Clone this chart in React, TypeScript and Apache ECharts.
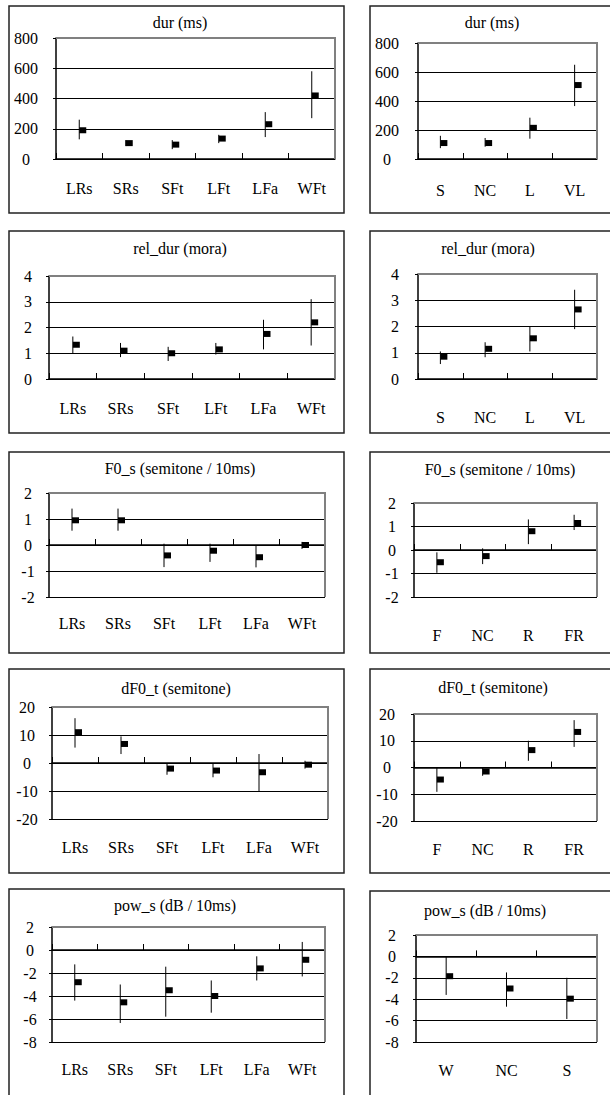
import React, { useEffect, useRef } from "react";
import * as echarts from "echarts";

// ---------- data ----------
const catsType = ["LRs", "SRs", "SFt", "LFt", "LFa", "WFt"];
const catsLen = ["S", "NC", "L", "VL"];
const catsF0 = ["F", "NC", "R", "FR"];
const catsPow = ["W", "NC", "S"];

const durTypeMean = [190, 105, 95, 135, 230, 420];
const durTypeLow = [130, 85, 65, 105, 145, 270];
const durTypeHigh = [260, 125, 125, 160, 310, 580];

const durLenMean = [110, 110, 215, 510];
const durLenLow = [75, 85, 140, 365];
const durLenHigh = [160, 145, 285, 650];

const relTypeMean = [1.33, 1.1, 1.0, 1.15, 1.75, 2.2];
const relTypeLow = [1.0, 0.85, 0.7, 0.95, 1.15, 1.3];
const relTypeHigh = [1.65, 1.4, 1.25, 1.4, 2.3, 3.1];

const relLenMean = [0.85, 1.15, 1.55, 2.65];
const relLenLow = [0.57, 0.83, 1.05, 1.9];
const relLenHigh = [1.05, 1.4, 2.0, 3.4];

const f0TypeMean = [0.95, 0.95, -0.4, -0.22, -0.47, 0.0];
const f0TypeLow = [0.55, 0.55, -0.85, -0.65, -0.86, -0.15];
const f0TypeHigh = [1.4, 1.4, 0.05, 0.05, 0.0, 0.12];

const f0DirMean = [-0.52, -0.26, 0.8, 1.15];
const f0DirLow = [-0.97, -0.6, 0.25, 0.85];
const f0DirHigh = [-0.1, 0.07, 1.3, 1.5];

const df0TypeMean = [11, 6.8, -2, -2.7, -3.3, -0.6];
const df0TypeLow = [5.5, 3.2, -4.2, -5.1, -10, -2];
const df0TypeHigh = [16, 9.5, 0, 0, 3.2, 0.8];

const df0DirMean = [-4.5, -1.5, 6.5, 13.3];
const df0DirLow = [-9.1, -3.1, 2.5, 7.7];
const df0DirHigh = [0, 0, 10, 17.7];

const powTypeMean = [-2.8, -4.55, -3.5, -4.0, -1.6, -0.85];
const powTypeLow = [-4.4, -6.35, -5.8, -5.45, -2.65, -2.3];
const powTypeHigh = [-1.25, -3.0, -1.45, -2.65, -0.55, 0.7];

const powStrMean = [-1.85, -3.0, -3.95];
const powStrLow = [-3.6, -4.7, -5.85];
const powStrHigh = [0, -1.5, -2.0];

const titles = [
  "dur (ms)", "dur (ms)",
  "rel_dur (mora)", "rel_dur (mora)",
  "F0_s (semitone / 10ms)", "F0_s (semitone / 10ms)",
  "dF0_t (semitone)", "dF0_t (semitone)",
  "pow_s (dB / 10ms)", "pow_s (dB / 10ms)",
];

// ---------- layout ----------
const FONT = "Liberation Serif";
const FS = 16;
const FRAME = "#808080";

type Panel = {
  cats: string[]; mean: number[]; low: number[]; high: number[];
  min: number; max: number; interval: number;
  grid: [number, number, number, number]; // left, top, width, height
  yMargin: number; xMargin: number;
  box: [number, number, number, number];
  title: [number, number];
};

const panels: Panel[] = [
  { cats: catsType, mean: durTypeMean, low: durTypeLow, high: durTypeHigh, min: 0, max: 800, interval: 200,
    grid: [56, 38, 279, 121], yMargin: 30, xMargin: 29, box: [9, 6, 335, 207], title: [180, 22] },
  { cats: catsLen, mean: durLenMean, low: durLenLow, high: durLenHigh, min: 0, max: 800, interval: 200,
    grid: [418, 43, 179, 116], yMargin: 31, xMargin: 31, box: [370, 6, 260, 207], title: [492, 22] },
  { cats: catsType, mean: relTypeMean, low: relTypeLow, high: relTypeHigh, min: 0, max: 4, interval: 1,
    grid: [49, 276, 286, 103], yMargin: 21, xMargin: 29, box: [9, 231, 335, 202], title: [180, 248] },
  { cats: catsLen, mean: relLenMean, low: relLenLow, high: relLenHigh, min: 0, max: 4, interval: 1,
    grid: [418, 274, 179, 105], yMargin: 23, xMargin: 38, box: [370, 231, 260, 202], title: [488, 248] },
  { cats: catsType, mean: f0TypeMean, low: f0TypeLow, high: f0TypeHigh, min: -2, max: 2, interval: 1,
    grid: [49, 493, 276, 104], yMargin: 21, xMargin: 26, box: [9, 452, 335, 201], title: [180, 468] },
  { cats: catsF0, mean: f0DirMean, low: f0DirLow, high: f0DirHigh, min: -2, max: 2, interval: 1,
    grid: [414, 503, 183, 94], yMargin: 22, xMargin: 38, box: [370, 452, 260, 201], title: [500, 469] },
  { cats: catsType, mean: df0TypeMean, low: df0TypeLow, high: df0TypeHigh, min: -20, max: 20, interval: 10,
    grid: [52, 707, 276, 112], yMargin: 25, xMargin: 28, box: [9, 669, 335, 204], title: [176, 688] },
  { cats: catsF0, mean: df0DirMean, low: df0DirLow, high: df0DirHigh, min: -20, max: 20, interval: 10,
    grid: [414, 714, 183, 107], yMargin: 27, xMargin: 28, box: [370, 669, 260, 204], title: [493, 687] },
  { cats: catsType, mean: powTypeMean, low: powTypeLow, high: powTypeHigh, min: -8, max: 2, interval: 2,
    grid: [52, 927, 273, 115], yMargin: 22, xMargin: 27, box: [9, 889, 335, 230], title: [175, 905] },
  { cats: catsPow, mean: powStrMean, low: powStrLow, high: powStrHigh, min: -8, max: 2, interval: 2,
    grid: [416, 935, 181, 107], yMargin: 24, xMargin: 28, box: [370, 891, 260, 230], title: [485, 910] },
];

function renderErr(params: any, api: any) {
  const x = api.value(0);
  const pm = api.coord([x, api.value(1)]);
  const pl = api.coord([x, api.value(2)]);
  const ph = api.coord([x, api.value(3)]);
  const children: any[] = [
    { type: "line", shape: { x1: pl[0], y1: pl[1], x2: ph[0], y2: ph[1] }, style: { stroke: "#000", lineWidth: 1 } },
    { type: "rect", shape: { x: pm[0], y: pm[1] - 3, width: 7, height: 6 }, style: { fill: "#000" } },
  ];
  if (params.dataIndex === 0) {
    const cs = params.coordSys;
    children.push({
      type: "polyline",
      shape: { points: [[cs.x, cs.y], [cs.x + cs.width, cs.y], [cs.x + cs.width, cs.y + cs.height]] },
      style: { stroke: FRAME, lineWidth: 2, fill: "none" },
    });
  }
  return { type: "group", children };
}

function buildOption() {
  const grid: any[] = [];
  const xAxis: any[] = [];
  const yAxis: any[] = [];
  const series: any[] = [];
  const graphic: any[] = [];

  panels.forEach((p, i) => {
    grid.push({
      left: p.grid[0], top: p.grid[1], width: p.grid[2], height: p.grid[3],
      show: false,
    });
    xAxis.push({
      gridIndex: i, type: "category", data: p.cats, position: "bottom",
      axisLine: { show: false, onZero: false }, axisTick: { show: false },
      splitLine: { show: false },
      axisLabel: { margin: p.xMargin, verticalAlign: "middle", fontFamily: FONT, fontSize: FS, color: "#000" },
    });
    xAxis.push({
      gridIndex: i, type: "category", data: p.cats, position: "bottom",
      axisLine: { show: true, onZero: true, lineStyle: { color: "#000", width: 1.5 } },
      axisTick: { show: true, inside: true, length: 6, lineStyle: { color: "#000", width: 1 } },
      axisLabel: { show: false }, splitLine: { show: false },
    });
    yAxis.push({
      gridIndex: i, type: "value", min: p.min, max: p.max, interval: p.interval, position: "left",
      axisLine: { show: true, onZero: false, lineStyle: { color: "#000", width: 1.5 } },
      axisTick: { show: true, length: 3, lineStyle: { color: "#000" } },
      axisLabel: {
        margin: p.yMargin, align: "center", verticalAlign: "middle", padding: [0, 0, 8, 0],
        fontFamily: FONT, fontSize: FS, color: "#000",
      },
      splitLine: { show: true, showMaxLine: false, lineStyle: { color: "#000", width: 1 } },
      z: 3,
    });
    series.push({
      type: "custom", xAxisIndex: i * 2, yAxisIndex: i,
      renderItem: renderErr,
      encode: { x: 0, y: 1 },
      data: p.cats.map((c, k) => [k, p.mean[k], p.low[k], p.high[k]]),
      clip: false,
      z: 5,
    });
    // panel frame
    graphic.push({
      type: "rect", silent: true,
      shape: { x: p.box[0], y: p.box[1], width: p.box[2], height: p.box[3] },
      style: { fill: "none", stroke: "#222", lineWidth: 1.5 },
    });
    graphic.push({
      type: "text", silent: true, x: p.title[0], y: p.title[1],
      style: { text: titles[i], fontFamily: FONT, fontSize: FS, fill: "#000", align: "center", verticalAlign: "middle" },
    });
  });

  return { animation: false, backgroundColor: "#fff", grid, xAxis, yAxis, series, graphic };
}

export default function App() {
  const ref = useRef<HTMLDivElement>(null);
  useEffect(() => {
    if (!ref.current) return;
    const chart = echarts.init(ref.current, null, { renderer: "svg" });
    chart.setOption(buildOption() as any);
    return () => chart.dispose();
  }, []);
  return (
    <div
      ref={ref}
      style={{ position: "absolute", left: 0, top: 0, width: 610, height: 1095, background: "#fff" }}
    />
  );
}
